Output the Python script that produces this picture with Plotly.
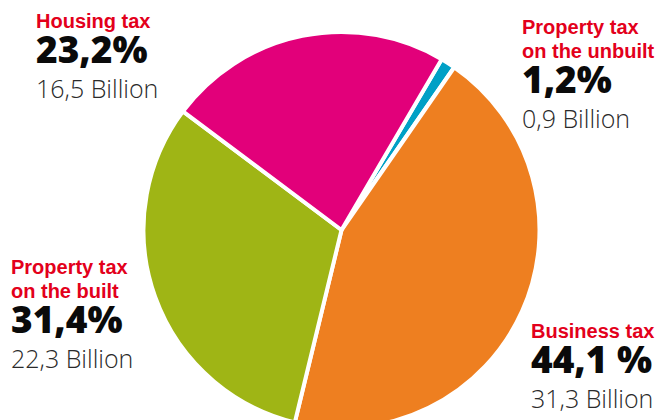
import plotly.graph_objects as go

# Local tax revenue split
categories = ["Property tax on the unbuilt", "Business tax", "Property tax on the built", "Housing tax"]
shares = [1.2, 44.1, 31.4, 23.2]            # percent of total
billions = [0.9, 31.3, 22.3, 16.5]          # amount, billions
title_lines = [["Property tax", "on the unbuilt"], ["Business tax"], ["Property tax", "on the built"], ["Housing tax"]]
share_labels = ["1,2%", "44,1 %", "31,4%", "23,2%"]
amount_labels = ["0,9 Billion", "31,3 Billion", "22,3 Billion", "16,5 Billion"]
colors = ["#00A0C6", "#EE7F20", "#9FB515", "#E2007A"]

W, H = 664, 428

# label block placement: left x and top of the text box, px from top-left
blocks = [
    dict(x=521, top=[15.2, 38.6]),
    dict(x=530, top=[318.6]),
    dict(x=10, top=[255.2, 278.6]),
    dict(x=35, top=[8.6]),
]

TITLE = "font-family:Liberation Sans Narrow, Arial Narrow, sans-serif;font-size:20px;font-weight:bold;color:#E3001B"
SHARE = "font-family:Open Sans, sans-serif;font-size:37px;font-weight:800;color:#0a0a0a"
AMOUNT = "font-family:Open Sans, sans-serif;font-size:25px;font-weight:300;color:#2a2a2a"


def span(text, style):
    return f'<span style="{style}">{text}</span>'


cx, r = 341.5, 198
fig = go.Figure(go.Pie(
    labels=categories,
    values=shares,
    customdata=billions,
    sort=False,
    direction="clockwise",
    rotation=30.4,
    marker=dict(colors=colors, line=dict(color="white", width=4)),
    textinfo="none",
    hoverinfo="label+percent",
    showlegend=False,
    domain=dict(x=[(cx - r) / W, (cx + r) / W], y=[0, (2 * r) / H]),
))


def py(y):
    return 1 - y / H


ann = []
for blk, lines, s, a in zip(blocks, title_lines, share_labels, amount_labels):
    # extra leading title lines sit in their own box above the main block
    for line, top in zip(lines[:-1], blk["top"][:-1]):
        ann.append(dict(text=span(line, TITLE), x=blk["x"] / W, y=py(top),
                        font=dict(family="Open Sans", size=18)))
    body = "<br>".join([span(lines[-1], TITLE), span(s, SHARE), span(a, AMOUNT)])
    ann.append(dict(text=body, x=blk["x"] / W, y=py(blk["top"][-1]), align="left",
                    font=dict(family="Open Sans", size=27)))
for d in ann:
    d.update(xref="paper", yref="paper", xanchor="left", yanchor="top",
             showarrow=False, borderpad=0)

fig.update_layout(
    width=W, height=H,
    margin=dict(l=0, r=0, t=0, b=0),
    paper_bgcolor="white", plot_bgcolor="white",
    annotations=ann,
)

fig.write_html("out.html",
               post_script="document.documentElement.style.overflow='hidden';document.body.style.overflow='hidden';")
